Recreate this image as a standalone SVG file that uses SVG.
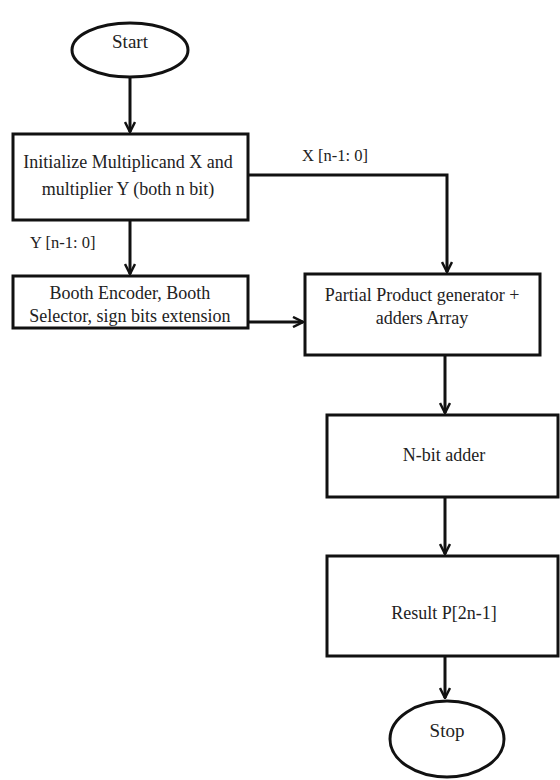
<svg xmlns="http://www.w3.org/2000/svg" width="560" height="780" viewBox="0 0 560 780">
<defs>
<style>
.box{fill:#fff;stroke:#111;stroke-width:3}
.t{font-family:'Liberation Serif','Times New Roman','DejaVu Serif',serif;font-size:18px;fill:#222;text-anchor:middle}
.t.s{font-size:19px}
.l{font-family:'Liberation Serif','Times New Roman','DejaVu Serif',serif;font-size:16.5px;fill:#222}
.c{fill:none;stroke:#111;stroke-width:3}
</style>
<marker id="arr" viewBox="0 0 12 12" refX="11" refY="6" markerWidth="12" markerHeight="12" markerUnits="userSpaceOnUse" orient="auto">
<polyline points="1,1 11,6 1,11" fill="none" stroke="#111" stroke-width="2.5"/>
</marker>
</defs>
<rect width="560" height="780" fill="#fff"/>
<g id="connectors">
<line class="c" x1="130" y1="78" x2="130" y2="132" marker-end="url(#arr)"/>
<line class="c" x1="130" y1="220" x2="130" y2="274" marker-end="url(#arr)"/>
<polyline class="c" points="248,175 447,175 447,272" marker-end="url(#arr)"/>
<line class="c" x1="248" y1="322" x2="303" y2="322" marker-end="url(#arr)"/>
<line class="c" x1="445" y1="355" x2="445" y2="413" marker-end="url(#arr)"/>
<line class="c" x1="445" y1="497" x2="445" y2="554" marker-end="url(#arr)"/>
<line class="c" x1="445" y1="656" x2="445" y2="698" marker-end="url(#arr)"/>
<text class="l" x="302" y="161">X [n-1: 0]</text>
<text class="l" x="30" y="248">Y [n-1: 0]</text>
</g>
<g id="start">
<ellipse class="box" cx="130" cy="50" rx="58" ry="27"/>
<text class="t s" x="130" y="48">Start</text>
</g>
<g id="init">
<rect class="box" x="13" y="134" width="235" height="86"/>
<text class="t" x="128" y="168">Initialize Multiplicand X and</text>
<text class="t" x="128" y="195">multiplier Y (both n bit)</text>
</g>
<g id="booth">
<rect class="box" x="13" y="276" width="235" height="52"/>
<text class="t" x="130" y="299">Booth Encoder, Booth</text>
<text class="t" x="130" y="322">Selector, sign bits extension</text>
</g>
<g id="partial">
<rect class="box" x="305" y="274" width="235" height="81"/>
<text class="t" x="422" y="301">Partial Product generator +</text>
<text class="t" x="422" y="324">adders Array</text>
</g>
<g id="nbit">
<rect class="box" x="327" y="415" width="231" height="82"/>
<text class="t" x="444" y="461">N-bit adder</text>
</g>
<g id="result">
<rect class="box" x="327" y="556" width="231" height="100"/>
<text class="t" x="444" y="619">Result P[2n-1]</text>
</g>
<g id="stop">
<ellipse class="box" cx="447" cy="739" rx="57" ry="38"/>
<text class="t s" x="447" y="737">Stop</text>
</g>
</svg>
